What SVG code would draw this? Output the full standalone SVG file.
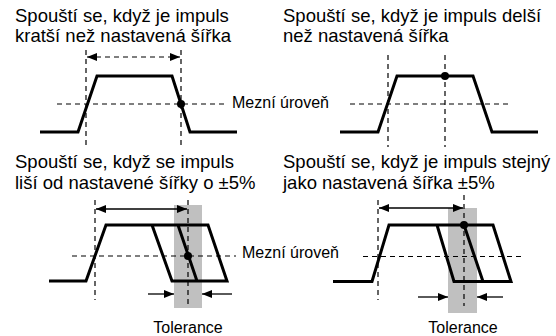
<svg xmlns="http://www.w3.org/2000/svg" width="556" height="336" viewBox="0 0 556 336">
<style>
text{font-family:"Liberation Sans",Arial,sans-serif;fill:#000}
.t{font-size:18.5px}
.l{font-size:16px}
.p{fill:none;stroke:#000;stroke-width:3;stroke-linejoin:miter}
.d{fill:none;stroke:#000;stroke-width:1.2;stroke-dasharray:5 4}
.s{fill:none;stroke:#000;stroke-width:1.3}
.g{fill:#c0c0c0}
</style>
<defs>
<marker id="ah" viewBox="0 0 10 8" refX="10" refY="4" markerWidth="10" markerHeight="8" markerUnits="userSpaceOnUse" orient="auto-start-reverse">
<path d="M0,0 L10,4 L0,8 Z" fill="#000"/>
</marker>
</defs>
<rect width="556" height="336" fill="#fff"/>
<g id="labels">
<text class="t" x="15" y="22">Spouští se, když je impuls</text>
<text class="t" x="15" y="42">kratší než nastavená šířka</text>
<text class="t" x="283" y="22">Spouští se, když je impuls delší</text>
<text class="t" x="283" y="42">než nastavená šířka</text>
<text class="t" x="15" y="168">Spouští se, když se impuls</text>
<text class="t" x="15" y="189">liší od nastavené šířky o ±5%</text>
<text class="t" x="283" y="168">Spouští se, když je impuls stejný</text>
<text class="t" x="283" y="189">jako nastavená šířka ±5%</text>
<text class="l" x="232" y="108">Mezní úroveň</text>
<text class="l" x="242" y="258">Mezní úroveň</text>
<text class="l" x="188" y="333" text-anchor="middle">Tolerance</text>
<text class="l" x="463" y="333" text-anchor="middle">Tolerance</text>
</g>
<g id="tolerance-bands">
<rect class="g" x="174" y="205" width="28" height="103"/>
<rect class="g" x="448" y="208" width="29" height="105"/>
</g>
<g id="connectors">
<line class="d" x1="86" y1="50" x2="86" y2="147"/>
<line class="d" x1="181" y1="50" x2="181" y2="147"/>
<line class="d" x1="87" y1="57" x2="180" y2="57" marker-start="url(#ah)" marker-end="url(#ah)"/>
<line class="d" x1="57" y1="104" x2="226" y2="104"/>
<line class="d" x1="388" y1="55" x2="388" y2="147"/>
<line class="d" x1="445" y1="55" x2="445" y2="147"/>
<line class="d" x1="350" y1="104" x2="508" y2="104"/>
<line class="d" x1="95" y1="200" x2="95" y2="300"/>
<line class="d" x1="188" y1="200" x2="188" y2="306"/>
<line class="s" x1="96" y1="209" x2="187" y2="209" marker-start="url(#ah)" marker-end="url(#ah)"/>
<line class="d" x1="72" y1="256" x2="236" y2="256"/>
<line class="s" x1="148" y1="294" x2="174" y2="294" marker-end="url(#ah)"/>
<line class="s" x1="232" y1="294" x2="202" y2="294" marker-end="url(#ah)"/>
<line class="d" x1="378" y1="200" x2="378" y2="300"/>
<line class="d" x1="464" y1="195" x2="464" y2="306"/>
<line class="s" x1="379" y1="208" x2="463" y2="208" marker-start="url(#ah)" marker-end="url(#ah)"/>
<line class="d" x1="363" y1="256.5" x2="523" y2="256.5"/>
<line class="s" x1="418" y1="297" x2="448" y2="297" marker-end="url(#ah)"/>
<line class="s" x1="503" y1="297" x2="477" y2="297" marker-end="url(#ah)"/>
</g>
<g id="pulse-shorter">
<path class="p" d="M40,132 H78 L97,76 H172 L190,132 H237"/>
<circle cx="181" cy="104" r="4"/>
</g>
<g id="pulse-longer">
<path class="p" d="M340,132 H378 L397,76 H473 L492,132 H538"/>
<circle cx="445" cy="76" r="4"/>
</g>
<g id="pulse-differs">
<path class="p" d="M49,281 H86 L106,225 H208 L227,281 H172 L152,225 M178,225 L197,281"/>
<circle cx="188" cy="256" r="4"/>
</g>
<g id="pulse-equal">
<path class="p" d="M333,281.5 H372 L389,225 H493 L511,281.5 H454 L437,225 M464,225 L483,281.5"/>
<circle cx="464" cy="225" r="4"/>
</g>
</svg>
